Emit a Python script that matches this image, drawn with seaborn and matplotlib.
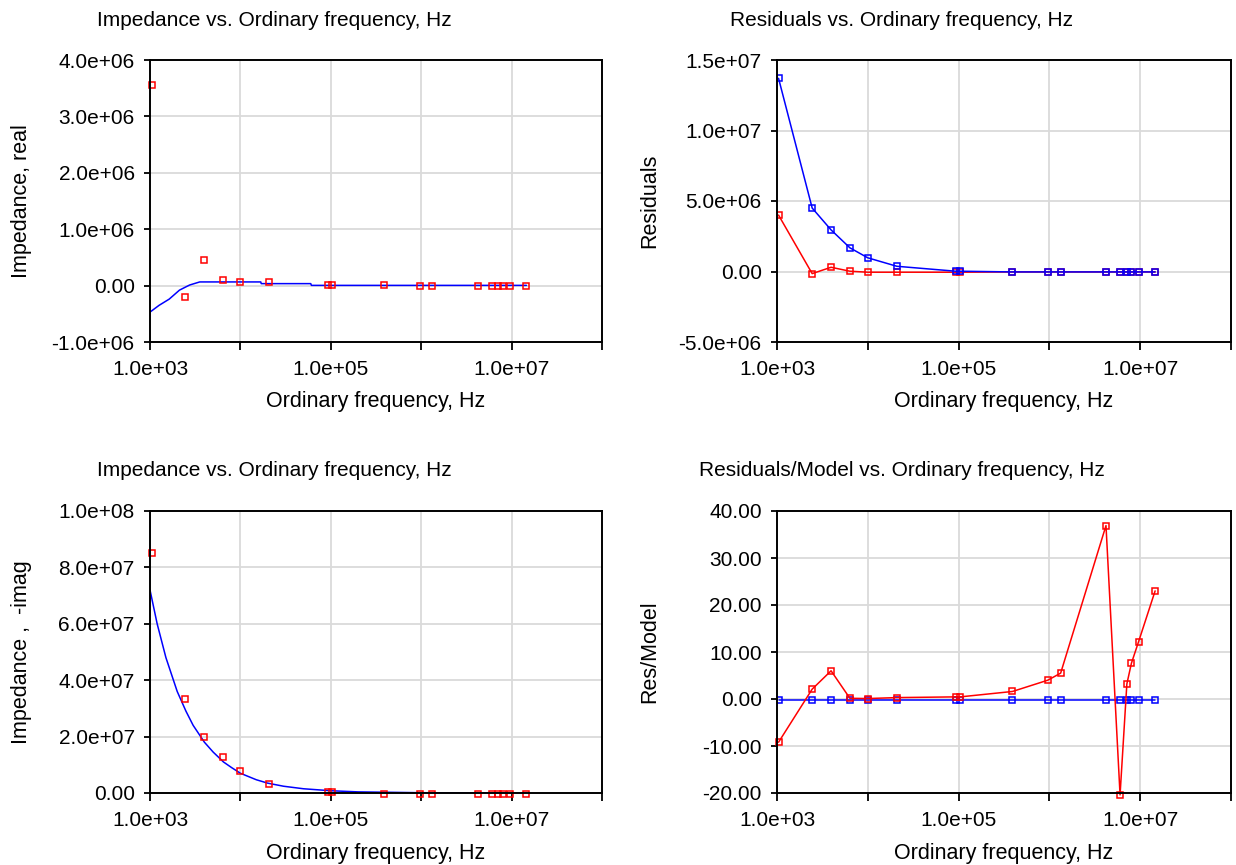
import matplotlib
matplotlib.use("Agg")
import matplotlib.pyplot as plt
import seaborn as sns
from matplotlib.ticker import FixedLocator, FixedFormatter, FuncFormatter, NullLocator

# ---------------- data ----------------
freq = [1.04e3, 2.44e3, 3.94e3, 6.35e3, 1.0e4, 2.09e4, 9.3e4, 1.04e5, 3.92e5,
        9.6e5, 1.33e6, 4.2e6, 6.0e6, 7.13e6, 8.0e6, 9.6e6, 1.46e7]

# measured impedance, real part
z_real = [3.55e6, -0.20e6, 0.45e6, 0.10e6, 0.07e6, 0.07e6, 5e3, 5e3, 2e3,
          1e3, 1e3, 0.0, 0.0, 0.0, 0.0, 0.0, 0.0]
# model impedance, real part
model_freq_re = [1.0e3, 1.26e3, 1.63e3, 2.12e3, 2.74e3, 3.55e3, 1.68e4, 1.70e4,
                 6.0e4, 6.1e4, 1.46e7]
model_re = [-0.47e6, -0.35e6, -0.24e6, -0.08e6, 0.01e6, 0.065e6, 0.065e6,
            0.035e6, 0.035e6, 0.004e6, 0.004e6]

# measured impedance, -imag part
z_imag = [8.5e7, 3.35e7, 2.0e7, 1.27e7, 0.77e7, 0.32e7, 0.04e7, 0.04e7, -4e5,
          -4e5, -4e5, -4e5, -4e5, -4e5, -4e5, -4e5, -4e5]
# model impedance, -imag part
model_freq_im = [1.0e3, 1.2e3, 1.5e3, 2.0e3, 2.5e3, 3.0e3, 4.0e3, 5.0e3, 6.5e3,
                 8.0e3, 1.0e4, 1.5e4, 2.0e4, 3.0e4, 5.0e4, 1.0e5, 2.0e5, 1.0e6, 1.46e7]
model_im = [7.2e7, 6.0e7, 4.8e7, 3.6e7, 2.9e7, 2.4e7, 1.8e7, 1.45e7, 1.1e7,
            0.9e7, 0.7e7, 0.47e7, 0.35e7, 0.24e7, 0.15e7, 0.08e7, 0.04e7, 0.01e7, 0.0]

# residuals
res_real = [4.0e6, -0.15e6, 0.3e6, 0.02e6, -0.05e6, -0.05e6, -0.05e6, -0.05e6,
            -0.03e6, -0.03e6, -0.03e6, -0.03e6, -0.03e6, -0.03e6, -0.03e6, -0.03e6, -0.03e6]
res_imag = [13.7e6, 4.5e6, 2.95e6, 1.68e6, 0.97e6, 0.37e6, 0.02e6, 0.02e6,
            -0.03e6, -0.03e6, -0.03e6, -0.03e6, -0.03e6, -0.03e6, -0.03e6, -0.03e6, -0.03e6]

# residuals / model
ratio_real = [-9.2, 2.1, 6.0, 0.15, 0.1, 0.3, 0.45, 0.45, 1.6, 4.0, 5.5, 36.9,
              -20.4, 3.2, 7.6, 12.2, 23.0]
ratio_imag = [-0.3, -0.3, -0.3, -0.3, -0.3, -0.3, -0.3, -0.3, -0.3, -0.3, -0.3,
              -0.3, -0.3, -0.3, -0.3, -0.3, -0.3]

x_ticks = [1e3, 1e4, 1e5, 1e6, 1e7, 1e8]
x_tick_labels = ["1.0e+03", "", "1.0e+05", "", "1.0e+07", ""]

title_imp = "Impedance vs. Ordinary frequency, Hz"
title_res = "Residuals vs. Ordinary frequency, Hz"
title_rm = "Residuals/Model vs. Ordinary frequency, Hz"
xlabel = "Ordinary frequency, Hz"

# ---------------- style ----------------
sns.set_style("white")
plt.rcParams["font.family"] = ["Liberation Sans", "DejaVu Sans"]
for k in ["text.color", "axes.labelcolor", "xtick.color", "ytick.color"]:
    plt.rcParams[k] = "black"

W, H = 1236, 865
fig = plt.figure(figsize=(W / 100, H / 100), dpi=100)
fig.patch.set_facecolor("white")


def add_axes(l, t, r, b):
    return fig.add_axes([l / W, 1 - b / H, (r - l) / W, (b - t) / H])


def sci_fmt(v, pos):
    if abs(v) < 1e-9:
        return "0.00"
    return "%.1e" % v


def fix_fmt(v, pos):
    return "%.2f" % v


def style(ax, yticks, fmt, ylim, ylabel, l, t, r, b, ylab_x):
    ax.set_xscale("log")
    ax.set_xlim(1e3, 1e8)
    ax.set_ylim(*ylim)
    ax.xaxis.set_major_locator(FixedLocator(x_ticks))
    ax.xaxis.set_major_formatter(FixedFormatter(x_tick_labels))
    ax.xaxis.set_minor_locator(NullLocator())
    ax.yaxis.set_major_locator(FixedLocator(yticks))
    ax.yaxis.set_major_formatter(FuncFormatter(fmt))
    ax.yaxis.set_minor_locator(NullLocator())
    ax.grid(True, color="#dadada", linewidth=1.3)
    ax.set_axisbelow(True)
    for s in ax.spines.values():
        s.set_visible(True)
        s.set_color("black")
        s.set_linewidth(1.4)
    ax.tick_params(axis="x", bottom=True, direction="out", length=6, width=1.3,
                   labelsize=15, pad=7)
    ax.tick_params(axis="y", left=True, direction="out", length=4, width=1.3,
                   labelsize=15, pad=7)
    ax.set_xlabel(xlabel, fontsize=15.5)
    ax.xaxis.label.set_va("center")
    ax.xaxis.set_label_coords(0.5, -(60.0) / (b - t))
    ax.set_ylabel(ylabel, fontsize=15.5)
    ax.yaxis.label.set_va("center")
    ax.yaxis.set_label_coords(-(l - ylab_x) / (r - l), 0.5)


mk = dict(marker="s", markersize=4.5, markerfacecolor="none", markeredgewidth=1.1)

# Panel 1: impedance real
ax1 = add_axes(150, 60, 602, 342)
sns.lineplot(x=model_freq_re, y=model_re, ax=ax1, color="#0000ff", linewidth=1.1,
             estimator=None, sort=False)
sns.lineplot(x=freq, y=z_real, ax=ax1, color="#ff0000", linestyle="", estimator=None,
             markeredgecolor="#ff0000", clip_on=False, **mk)
style(ax1, [-1e6, 0, 1e6, 2e6, 3e6, 4e6], sci_fmt, (-1e6, 4e6), "Impedance, real",
      150, 60, 602, 342, 22)

# Panel 2: residuals
ax2 = add_axes(777, 60, 1231, 342)
sns.lineplot(x=freq, y=res_real, ax=ax2, color="#ff0000", linewidth=1.1, estimator=None,
             markeredgecolor="#ff0000", **mk)
sns.lineplot(x=freq, y=res_imag, ax=ax2, color="#0000ff", linewidth=1.1, estimator=None,
             markeredgecolor="#0000ff", **mk)
style(ax2, [-5e6, 0, 5e6, 1e7, 1.5e7], sci_fmt, (-5e6, 1.5e7), "Residuals",
      777, 60, 1231, 342, 650)

# Panel 3: impedance -imag
ax3 = add_axes(150, 511, 602, 793)
sns.lineplot(x=model_freq_im, y=model_im, ax=ax3, color="#0000ff", linewidth=1.1,
             estimator=None, sort=False)
sns.lineplot(x=freq, y=z_imag, ax=ax3, color="#ff0000", linestyle="", estimator=None,
             markeredgecolor="#ff0000", clip_on=False, **mk)
style(ax3, [0, 2e7, 4e7, 6e7, 8e7, 1e8], sci_fmt, (0, 1e8), "Impedance ,  -imag",
      150, 511, 602, 793, 22)

# Panel 4: residuals / model
ax4 = add_axes(777, 511, 1231, 793)
sns.lineplot(x=freq, y=ratio_imag, ax=ax4, color="#0000ff", linewidth=1.1, estimator=None,
             markeredgecolor="#0000ff", **mk)
sns.lineplot(x=freq, y=ratio_real, ax=ax4, color="#ff0000", linewidth=1.1, estimator=None,
             markeredgecolor="#ff0000", clip_on=False, **mk)
style(ax4, [-20, -10, 0, 10, 20, 30, 40], fix_fmt, (-20, 40), "Res/Model",
      777, 511, 1231, 793, 650)

for a in (ax1, ax2, ax3, ax4):
    leg = a.get_legend()
    if leg is not None:
        leg.remove()

# titles
fig.text(274 / W, 1 - 20 / H, title_imp, ha="center", va="center", fontsize=15)
fig.text(902 / W, 1 - 20 / H, title_res, ha="center", va="center", fontsize=15)
fig.text(274 / W, 1 - 471 / H, title_imp, ha="center", va="center", fontsize=15)
fig.text(902 / W, 1 - 471 / H, title_rm, ha="center", va="center", fontsize=15)

fig.savefig("out.png", dpi=100, facecolor="white")
